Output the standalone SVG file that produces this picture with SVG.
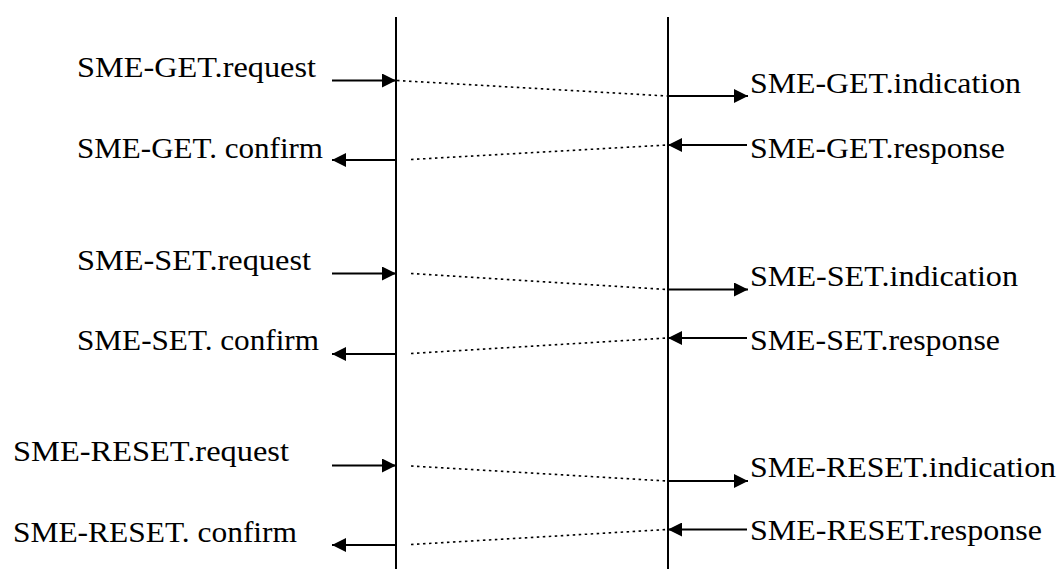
<svg xmlns="http://www.w3.org/2000/svg" width="1059" height="569" viewBox="0 0 1059 569">
<defs>
<style>
text{font-size:30px;fill:#000}
.life{stroke:#000;stroke-width:2;fill:none}
.arr{stroke:#000;stroke-width:2;fill:none}
.dot{stroke:#000;stroke-width:1.6;stroke-dasharray:2.5 3.5;fill:none}
</style>
<marker id="ah" markerUnits="userSpaceOnUse" markerWidth="14" markerHeight="14" refX="14" refY="7" orient="auto">
<path d="M0,0 L14,7 L0,14 z" fill="#000"/>
</marker>
</defs>
<rect width="1059" height="569" fill="#fff"/>
<g id="lifeline-left"><line class="life" x1="396" y1="17" x2="396" y2="569"/></g>
<g id="lifeline-right"><line class="life" x1="668" y1="17" x2="668" y2="569"/></g>
<g id="labels" font-family="'Liberation Serif', 'DejaVu Serif', 'Times New Roman', serif" font-size="30">
<g id="get-request"><text x="77" y="77" textLength="239" lengthAdjust="spacingAndGlyphs">SME-GET.request</text></g>
<g id="get-confirm"><text x="77" y="157.5" textLength="246" lengthAdjust="spacingAndGlyphs">SME-GET. confirm</text></g>
<g id="get-indication"><text x="750" y="93" textLength="271" lengthAdjust="spacingAndGlyphs">SME-GET.indication</text></g>
<g id="get-response"><text x="750" y="157.5" textLength="255" lengthAdjust="spacingAndGlyphs">SME-GET.response</text></g>
<g id="set-request"><text x="77" y="270" textLength="234" lengthAdjust="spacingAndGlyphs">SME-SET.request</text></g>
<g id="set-confirm"><text x="77" y="350" textLength="242" lengthAdjust="spacingAndGlyphs">SME-SET. confirm</text></g>
<g id="set-indication"><text x="750" y="286" textLength="268" lengthAdjust="spacingAndGlyphs">SME-SET.indication</text></g>
<g id="set-response"><text x="750" y="350" textLength="250" lengthAdjust="spacingAndGlyphs">SME-SET.response</text></g>
<g id="reset-request"><text x="13" y="461" textLength="276" lengthAdjust="spacingAndGlyphs">SME-RESET.request</text></g>
<g id="reset-confirm"><text x="13" y="542" textLength="284" lengthAdjust="spacingAndGlyphs">SME-RESET. confirm</text></g>
<g id="reset-indication"><text x="750" y="477" textLength="306" lengthAdjust="spacingAndGlyphs">SME-RESET.indication</text></g>
<g id="reset-response"><text x="750" y="540" textLength="292" lengthAdjust="spacingAndGlyphs">SME-RESET.response</text></g>
</g>
<g id="connectors">
<line class="arr" x1="332" y1="80.5" x2="396" y2="80.5" marker-end="url(#ah)"/>
<line class="arr" x1="396" y1="160" x2="332" y2="160" marker-end="url(#ah)"/>
<line class="arr" x1="668" y1="96" x2="748" y2="96" marker-end="url(#ah)"/>
<line class="arr" x1="747" y1="145" x2="668" y2="145" marker-end="url(#ah)"/>
<line class="dot" x1="397" y1="80.5" x2="667" y2="96"/>
<line class="dot" x1="411" y1="159.5" x2="667" y2="145"/>

<line class="arr" x1="332" y1="273.5" x2="396" y2="273.5" marker-end="url(#ah)"/>
<line class="arr" x1="396" y1="354" x2="332" y2="354" marker-end="url(#ah)"/>
<line class="arr" x1="668" y1="289.5" x2="748" y2="289.5" marker-end="url(#ah)"/>
<line class="arr" x1="747" y1="338" x2="668" y2="338" marker-end="url(#ah)"/>
<line class="dot" x1="411" y1="273.5" x2="667" y2="289.5"/>
<line class="dot" x1="411" y1="353.5" x2="667" y2="338"/>

<line class="arr" x1="332" y1="465.5" x2="396" y2="465.5" marker-end="url(#ah)"/>
<line class="arr" x1="396" y1="545" x2="332" y2="545" marker-end="url(#ah)"/>
<line class="arr" x1="668" y1="481" x2="748" y2="481" marker-end="url(#ah)"/>
<line class="arr" x1="747" y1="529.5" x2="668" y2="529.5" marker-end="url(#ah)"/>
<line class="dot" x1="411" y1="466" x2="667" y2="481"/>
<line class="dot" x1="411" y1="544.5" x2="667" y2="529.5"/>
</g>
</svg>
